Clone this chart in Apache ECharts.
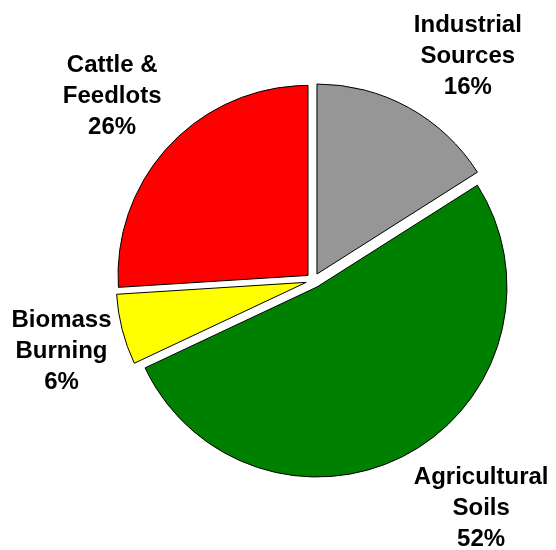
<!DOCTYPE html>
<html>
<head>
<meta charset="utf-8">
<script src="https://cdn.jsdelivr.net/npm/echarts@6/dist/echarts.min.js"></script>
<style>
  html, body { margin: 0; padding: 0; background: #ffffff; }
  #chart { width: 556px; height: 550px; }
</style>
</head>
<body>
<div id="chart"></div>
<script>
// Sources, clockwise from 12 o'clock
const categories = ['Industrial\nSources', 'Agricultural\nSoils', 'Biomass\nBurning', 'Cattle &\nFeedlots'];
const shares = [16, 52, 6, 26];
const sliceColors = ['#969696', '#008000', '#FFFF00', '#FF0000'];

// Pie geometry
const CX = 313.4, CY = 280.5, R = 190, EXPLODE = 7.4, GAP = 11;
const W = 556, H = 550;
const FONT_SIZE = 24, LINE_H = 31, TEXT_DY = 5;
const FONT_FAMILY = '"Liberation Sans", Arial, sans-serif';

const total = shares.reduce((a, b) => a + b, 0);
const midAngles = [];
let acc = 0;
shares.forEach(v => { midAngles.push((acc + v / 2) / total * 2 * Math.PI); acc += v; });

const labelText = i => categories[i] + '\n' + shares[i] + '%';

// measure a multi-line label box
const ctx = document.createElement('canvas').getContext('2d');
ctx.font = 'bold ' + FONT_SIZE + 'px ' + FONT_FAMILY;
function boxSize(text) {
  const lines = text.split('\n');
  return {
    w: Math.max.apply(null, lines.map(l => ctx.measureText(l).width)),
    h: lines.length * LINE_H
  };
}

// how far a label box leans off its anchor, by direction component
const lean = t => Math.sign(t) * Math.min(1, 5 * t * t);

// label centre: outside the exploded slice, along its bisector
function labelPos(i) {
  const a = midAngles[i];
  const s = Math.sin(a), c = Math.cos(a);
  const ox = CX + EXPLODE * s, oy = CY - EXPLODE * c;
  const px = ox + (R + GAP) * s, py = oy - (R + GAP) * c;
  const b = boxSize(labelText(i));
  let x = px + b.w / 2 * lean(s);
  let y = py - b.h / 2 * lean(c);
  x = Math.max(b.w / 2 + 2, Math.min(W - b.w / 2 - 2, x));
  y = Math.max(b.h / 2 + 4, Math.min(H - b.h / 2, y));
  return { x: x, y: y + TEXT_DY };
}

const chart = echarts.init(document.getElementById('chart'), null, { renderer: 'canvas' });

const common = {
  type: 'pie',
  center: [CX, CY],
  radius: R,
  startAngle: 90,
  clockwise: true,
  avoidLabelOverlap: false,
  emphasis: { disabled: true },
  labelLine: { show: false }
};

chart.setOption({
  animation: false,
  series: [
    // exploded slices
    Object.assign({}, common, {
      selectedMode: 'multiple',
      selectedOffset: EXPLODE,
      itemStyle: { borderColor: '#000000', borderWidth: 1 },
      select: { itemStyle: { borderColor: '#000000', borderWidth: 1 } },
      label: { show: false },
      data: categories.map((n, i) => ({
        name: n,
        value: shares[i],
        selected: true,
        itemStyle: { color: sliceColors[i] }
      }))
    }),
    // category labels
    Object.assign({}, common, {
      silent: true,
      z: 3,
      itemStyle: { color: 'rgba(0,0,0,0)', borderWidth: 0 },
      label: {
        show: true,
        position: 'outside',
        formatter: p => labelText(p.dataIndex),
        fontFamily: FONT_FAMILY,
        fontWeight: 'bold',
        fontSize: FONT_SIZE,
        lineHeight: LINE_H,
        color: '#000000',
        align: 'center'
      },
      labelLayout: params => {
        const p = labelPos(params.dataIndex);
        return { x: p.x, y: p.y, align: 'center', verticalAlign: 'middle' };
      },
      data: categories.map((n, i) => ({ name: n, value: shares[i] }))
    })
  ]
});
</script>
</body>
</html>
